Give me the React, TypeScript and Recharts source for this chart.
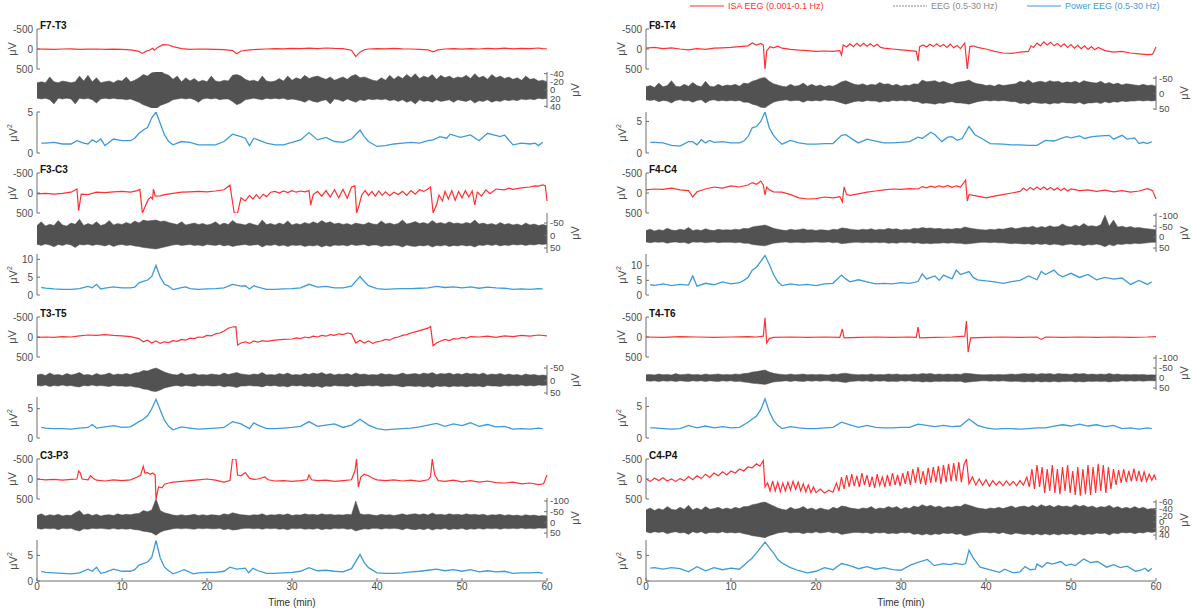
import React from 'react';
import { ComposedChart, Line, Area, XAxis, YAxis } from 'recharts';

type Pt = [number, number];

// ---------- data ----------
// EEG envelope is sampled every 0.5 min (0..60)
const eegTime = Array.from({ length: 121 }, (_, i) => i * 0.5);
const timeTicks = [0, 10, 20, 30, 40, 50, 60];

// F7-T3
const isaF7T3: Pt[] = [[0,0],[1,5],[2,10],[3,0],[4,-5],[5,10],[6,5],[7,0],[8,10],[9,5],[10,10],[11,20],[12,60],[12.4,110],[12.8,60],[13.2,30],[13.6,-20],[13.8,30],[14.2,-40],[14.8,-110],[15.5,-100],[16,-60],[17,-10],[18,10],[19,0],[20,5],[21,10],[22,15],[23,40],[23.5,120],[24,50],[25,20],[26,10],[27,0],[28,-10],[29,-5],[30,-15],[31,-10],[32,-20],[33,-10],[34,-25],[35,-15],[36,-10],[37,30],[37.5,190],[38,80],[38.5,20],[39,0],[40,-10],[41,-5],[42,-15],[43,-5],[44,0],[45,10],[46,20],[46.6,70],[47.2,20],[48,0],[49,-10],[50,5],[51,-10],[52,0],[53,-15],[54,-5],[55,-20],[56,-5],[57,-15],[58,-10],[59,-25],[59.5,-10],[60,0]];
const eegHiF7T3 = [-18,-20,-18,-32,-20,-18,-22,-20,-18,-20,-34,-22,-36,-20,-30,-18,-20,-22,-18,-24,
  -22,-32,-20,-24,-30,-38,-34,-42,-44,-46,-40,-36,-26,-34,-20,-30,-22,-28,-20,-24,
  -20,-34,-22,-20,-24,-22,-36,-38,-34,-26,-22,-24,-20,-34,-22,-20,-22,-28,-22,-34,
  -24,-30,-26,-36,-28,-32,-34,-30,-26,-32,-24,-28,-32,-26,-34,-38,-30,-32,-28,-24,
  -22,-30,-24,-36,-26,-34,-28,-38,-30,-40,-28,-34,-30,-38,-26,-36,-30,-34,-28,-32,
  -30,-36,-28,-40,-30,-34,-26,-38,-30,-34,-28,-32,-26,-30,-24,-34,-26,-28,-22,-24,-20];
const eegLoF7T3 = [20,22,20,24,34,20,22,20,22,34,20,22,20,24,32,22,20,22,20,22,
  22,24,22,26,30,36,40,44,46,38,34,30,24,22,20,22,20,24,30,22,
  20,22,20,24,22,22,28,36,32,24,22,20,22,24,20,22,20,22,20,24,
  22,24,26,30,24,28,30,26,24,34,22,24,28,22,26,30,24,26,22,24,
  22,24,22,26,24,28,24,30,26,34,24,28,26,30,24,28,26,24,30,24,
  26,28,24,32,26,28,24,30,26,28,24,26,24,26,22,24,22,24,20,22,20];
const powF7T3: Pt[] = [[0.5,1.2],[1,1.2],[2,1.3],[3,1.1],[4,1.1],[4.7,1.5],[5.5,1.2],[6,1.1],[6.5,1.6],[7,1.3],[7.5,1.7],[8,0.9],[9,1.7],[10,1.5],[11,1.5],[11.5,1.8],[12,2.4],[12.5,2.8],[13,3.1],[13.5,4.3],[14,5.0],[14.5,3.6],[15,2.2],[15.5,1.4],[16,1.0],[17,1.4],[18,1.3],[19,1.0],[20,1.0],[21,1.0],[22,1.4],[23,2.3],[24,2.0],[24.5,1.8],[25,0.9],[25.5,1.8],[26,1.6],[27,1.2],[28,1.0],[29,1.0],[30,1.3],[31,1.6],[32,2.5],[33,1.6],[34,1.9],[35,1.4],[36,1.3],[37,1.7],[38,2.8],[38.5,2.0],[39,1.4],[40,0.8],[41,0.9],[42,1.1],[43,1.2],[44,1.3],[45,1.2],[46,1.5],[46.6,1.6],[47.4,2.0],[48.2,1.8],[48.6,2.3],[49.8,1.9],[51,2.2],[52,1.5],[53,2.4],[54.5,2.0],[55,2.2],[56,1.0],[57,1.2],[58,1.1],[58.6,1.2],[59,0.9],[59.5,1.3]];

// F3-C3
const isaF3C3: Pt[] = [[0,20],[1,10],[2,30],[3,10],[4,-20],[4.7,-100],[4.9,440],[5.2,30],[6,40],[7,-20],[8,-10],[9,-30],[10,-40],[11,-20],[11.8,-60],[12.1,-90],[12.4,500],[12.8,300],[13.1,160],[13.4,100],[13.6,150],[13.7,-100],[13.9,80],[14.5,70],[15,40],[16,10],[17,-20],[18,-30],[19,-40],[20,-30],[21,-50],[22,-80],[22.7,-200],[23.2,500],[23.6,500],[24,120],[24.5,200],[25,60],[25.4,150],[25.8,40],[26.2,140],[26.6,30],[27,90],[27.5,-20],[28,-40],[28.5,0],[29,-50],[29.5,-10],[30,-60],[30.5,-20],[31,-50],[31.5,-30],[32,-60],[32.2,300],[32.5,40],[33,-40],[33.5,80],[34,-60],[34.5,100],[35,-80],[35.5,120],[36,-90],[36.5,130],[37,-150],[37.4,-180],[37.6,500],[37.9,300],[38.2,50],[38.6,-60],[39,60],[39.4,-40],[39.8,80],[40.2,-50],[40.6,60],[41,-30],[41.5,70],[42,-20],[42.5,40],[43,-40],[43.5,60],[44,-60],[44.5,30],[45,-80],[45.5,-40],[46,-100],[46.3,-150],[46.6,500],[47,300],[47.3,50],[47.7,200],[48,-40],[48.4,150],[48.8,-60],[49.2,180],[49.6,-40],[50,120],[50.4,-60],[50.8,100],[51.2,-50],[51.5,300],[51.8,-20],[52.3,80],[52.8,-80],[53.3,20],[54,-100],[55,-80],[55.5,-120],[56,-90],[57,-130],[58,-150],[58.5,-180],[59,-170],[59.5,-200],[59.8,-180],[60,200]];
const eegHiF3C3 = [-40,-55,-38,-45,-40,-60,-42,-38,-50,-45,-65,-40,-48,-42,-55,-40,-45,-60,-42,-48,
  -44,-52,-46,-58,-50,-62,-58,-60,-62,-56,-58,-52,-48,-44,-55,-42,-46,-50,-44,-48,
  -42,-46,-55,-42,-50,-44,-60,-48,-46,-42,-50,-44,-40,-62,-44,-48,-42,-50,-44,-58,
  -42,-48,-44,-52,-46,-55,-48,-60,-50,-55,-46,-50,-44,-48,-42,-50,-46,-44,-52,-46,
  -44,-58,-46,-50,-44,-48,-62,-46,-50,-56,-48,-52,-46,-60,-48,-52,-46,-55,-48,-50,
  -46,-52,-48,-62,-46,-50,-44,-48,-42,-52,-44,-48,-42,-46,-40,-50,-42,-46,-40,-44,-40];
const eegLoF3C3 = [35,40,34,38,45,36,40,34,38,48,36,38,35,40,36,38,42,36,44,38,
  36,40,38,42,44,48,50,52,54,50,46,42,38,36,40,38,36,40,38,42,
  36,38,40,36,42,38,44,40,38,36,40,38,36,46,38,40,36,42,38,44,
  38,40,38,44,40,42,38,46,40,44,38,40,38,42,36,40,38,36,42,38,
  38,44,40,42,38,40,46,38,42,44,40,42,38,46,40,42,38,44,40,42,
  38,42,40,46,38,40,36,40,36,42,38,40,36,38,36,40,36,38,34,36,34];
const powF3C3: Pt[] = [[0.5,2.1],[1,1.9],[2,1.7],[3,1.6],[4,1.6],[5,1.8],[6,2.4],[6.5,2.0],[7,3.0],[7.5,1.7],[8,1.9],[9,2.3],[10,2.0],[11,2.0],[11.5,2.2],[12,3.4],[12.5,3.8],[13,4.2],[13.5,5.2],[14,8.3],[14.5,5.0],[15,3.0],[15.5,2.5],[16,1.5],[17,2.1],[17.5,2.3],[18,1.8],[19,1.6],[20,1.7],[21,1.8],[22,2.0],[23,3.0],[24,2.5],[24.5,2.6],[25,1.7],[25.5,2.6],[26,2.2],[27,1.6],[28,1.6],[29,1.7],[30,1.8],[31,2.0],[32,3.0],[33,2.2],[34,2.4],[35,2.0],[36,2.0],[37,2.5],[38,5.2],[38.5,3.8],[39,2.6],[40,1.8],[41,1.6],[42,1.7],[43,1.8],[44,1.8],[45,1.9],[46,2.0],[47,2.4],[48,2.1],[49,2.3],[50,2.0],[51,2.3],[52,1.9],[53,2.2],[54,2.0],[55,1.9],[56,1.6],[57,1.7],[58,1.6],[59,1.8],[59.5,1.7]];

// T3-T5
const isaT3T5: Pt[] = [[0,10],[1,0],[2,10],[3,-10],[4,0],[5,-30],[6,-50],[7,-40],[8,-60],[9,-40],[10,-30],[11,-10],[12,40],[12.5,120],[13,80],[13.5,150],[14,100],[14.5,160],[15,120],[15.5,140],[16,90],[16.5,110],[17,60],[17.5,80],[18,30],[18.5,40],[19,0],[19.5,10],[20,-40],[20.5,-30],[21,-80],[21.5,-100],[22,-150],[22.5,-220],[23,-250],[23.4,-260],[23.6,200],[24,150],[24.5,120],[25,160],[25.5,100],[26,130],[26.5,90],[27,110],[28,80],[29,60],[30,50],[30.5,20],[31,40],[31.5,0],[32,20],[32.5,-20],[33,0],[33.5,-40],[34,-20],[34.5,-60],[35,-40],[35.5,-80],[36,-60],[36.5,-100],[37,-80],[37.5,150],[38,80],[38.5,150],[39,100],[39.5,160],[40,120],[40.5,100],[41,60],[41.5,80],[42,20],[42.5,0],[43,-40],[43.5,-60],[44,-100],[44.5,-130],[45,-160],[45.5,-190],[46,-220],[46.3,-260],[46.6,220],[47,150],[47.5,100],[48,60],[48.5,90],[49,40],[49.5,50],[50,10],[50.5,30],[51,-10],[52,0],[53,-20],[54,10],[55,-30],[56,-10],[57,-40],[58,-20],[59,-50],[60,-30]];
const eegHiT3T5 = [-22,-26,-20,-30,-22,-24,-20,-28,-22,-26,-32,-22,-24,-20,-28,-22,-24,-30,-22,-26,
  -24,-28,-24,-30,-32,-40,-38,-45,-50,-42,-34,-28,-24,-22,-30,-22,-24,-28,-22,-24,
  -22,-26,-24,-22,-30,-24,-28,-32,-26,-24,-22,-26,-24,-32,-22,-24,-22,-28,-24,-30,
  -22,-24,-22,-28,-24,-30,-26,-32,-24,-28,-22,-26,-24,-28,-22,-30,-24,-26,-22,-24,
  -22,-28,-24,-26,-22,-24,-30,-24,-26,-28,-24,-30,-26,-32,-24,-28,-26,-30,-24,-28,
  -24,-30,-26,-28,-24,-30,-22,-26,-24,-28,-22,-26,-22,-24,-20,-26,-22,-24,-20,-22,-20];
const eegLoT3T5 = [20,22,18,24,20,22,18,22,20,24,26,20,22,18,22,20,22,24,20,22,
  22,24,22,26,28,34,36,42,44,38,30,26,22,20,24,20,22,24,20,22,
  20,22,22,20,26,22,24,28,22,22,20,22,22,26,20,22,20,24,22,26,
  20,22,20,24,22,26,22,28,22,24,20,22,22,24,20,26,22,22,20,22,
  20,24,22,22,20,22,26,22,22,24,22,26,22,28,22,24,22,26,22,24,
  22,26,22,24,22,26,20,22,22,24,20,22,20,22,18,22,20,22,18,20,18];
const powT3T5: Pt[] = [[0.5,1.8],[1,1.7],[2,1.6],[3,1.6],[4,1.5],[5,1.7],[6,1.8],[6.5,2.3],[7,1.7],[8,1.9],[9,2.1],[10,1.8],[11,1.9],[12,2.8],[12.5,3.2],[13,3.8],[13.5,5.0],[14,6.6],[14.5,4.8],[15,3.0],[15.5,2.0],[16,1.4],[17,1.9],[18,1.7],[19,1.5],[20,1.6],[21,1.7],[22,1.8],[23,2.8],[24,2.4],[25,1.6],[25.5,2.6],[26,2.2],[27,1.6],[28,1.6],[29,1.7],[30,1.8],[31,2.0],[32,2.8],[33,2.0],[34,2.2],[35,2.4],[36,1.8],[37,2.2],[38,3.2],[39,2.2],[40,1.6],[41,1.4],[42,1.5],[43,1.6],[44,1.7],[45,1.9],[46,2.2],[47,2.5],[48,2.0],[49,2.4],[50,2.1],[51,2.6],[52,2.0],[53,2.3],[54,1.9],[55,2.0],[56,1.5],[57,1.6],[58,1.5],[59,1.7],[59.5,1.6]];

// C3-P3
const isaC3P3: Pt[] = [[0,0],[1,20],[2,10],[3,30],[4,10],[4.7,0],[4.9,-200],[5.1,-150],[5.3,0],[6,20],[6.3,-80],[6.6,-20],[7,30],[8,50],[9,20],[10,40],[11,20],[11.8,-50],[12.2,-100],[12.5,-320],[12.7,-150],[13,-160],[13.3,-120],[13.6,-150],[13.9,-100],[14,500],[14.3,200],[14.7,220],[15,130],[15.5,100],[16,80],[17,60],[18,40],[19,20],[20,0],[21,30],[22,80],[22.7,40],[23,-500],[23.4,-500],[23.6,-100],[24,-80],[24.5,-160],[25,-20],[25.5,10],[26,0],[26.8,-50],[27.2,20],[28,50],[29,40],[30,60],[31,40],[31.8,20],[32,-100],[32.3,20],[33,40],[34,30],[35,60],[36,40],[37,20],[37.4,-200],[37.6,-500],[37.8,200],[38.1,-50],[38.5,-120],[39,-80],[39.5,-20],[40,20],[41,40],[42,20],[43,50],[44,30],[45,60],[46,20],[46.3,-50],[46.5,-500],[46.8,-100],[47.2,40],[48,60],[49,30],[50,70],[51,40],[52,80],[53,50],[54,90],[55,100],[56,80],[57,120],[58,100],[59,140],[59.6,120],[60,-100]];
const eegHiC3P3 = [-32,-40,-30,-36,-32,-38,-30,-34,-32,-45,-55,-34,-40,-32,-38,-30,-34,-36,-32,-40,
  -34,-38,-36,-40,-42,-55,-50,-58,-110,-55,-45,-40,-34,-32,-36,-32,-34,-38,-32,-36,
  -32,-36,-34,-32,-40,-36,-45,-40,-36,-34,-32,-36,-34,-40,-32,-36,-34,-38,-34,-40,
  -32,-36,-34,-40,-36,-38,-34,-40,-36,-38,-34,-36,-34,-38,-36,-100,-40,-36,-38,-34,
  -32,-38,-34,-36,-32,-36,-40,-34,-38,-40,-36,-40,-34,-44,-36,-38,-34,-40,-36,-38,
  -34,-40,-36,-38,-34,-38,-32,-36,-34,-38,-32,-36,-32,-34,-30,-36,-32,-34,-30,-32,-30];
const eegLoC3P3 = [28,32,28,30,28,34,28,30,28,36,40,30,32,28,30,28,30,32,28,32,
  30,32,30,34,36,42,44,48,60,46,38,34,30,28,30,28,30,32,28,30,
  28,30,30,28,34,30,36,34,30,28,28,30,28,32,28,30,28,32,30,34,
  28,30,28,32,30,32,28,34,30,32,28,30,28,32,30,40,34,30,32,28,
  28,32,28,30,28,30,34,28,32,34,30,34,28,36,30,32,28,34,30,32,
  28,34,30,32,28,32,28,30,28,32,28,30,28,30,26,30,28,30,26,28,26];
const powC3P3: Pt[] = [[0.5,1.9],[1,1.7],[2,1.6],[3,1.5],[4,1.4],[5,1.6],[6,2.3],[6.5,1.9],[7,2.7],[7.5,1.5],[8,1.7],[9,2.3],[10,1.9],[11,1.9],[11.5,2.2],[12,3.1],[12.5,3.4],[13,3.7],[13.5,4.6],[14,7.9],[14.5,4.5],[15,2.7],[15.5,2.0],[16,1.4],[17,2.0],[17.3,2.2],[18.4,1.4],[19,1.6],[20,1.7],[21,1.7],[22,1.9],[22.7,2.7],[23.5,2.3],[24.5,2.5],[24.9,1.6],[25.4,2.5],[26,2.0],[27,1.5],[28,1.5],[29,1.6],[30,1.7],[31,1.9],[32,2.6],[33,2.0],[34,2.1],[35,1.9],[36,1.8],[37,2.4],[38,5.2],[38.5,3.6],[39,2.6],[40,1.6],[41,1.5],[42,1.5],[43,1.6],[44,1.8],[45,1.9],[46,2.1],[47,2.3],[48,2.0],[49,2.2],[50,1.9],[51,2.2],[52,1.8],[53,2.0],[54,1.8],[55,1.9],[56,1.5],[57,1.6],[58,1.6],[59,1.7],[59.5,1.5]];

// F8-T4
const isaF8T4: Pt[] = [[0,-20],[1,-40],[2,-10],[3,-30],[4,0],[5,20],[6,-10],[7,10],[8,-20],[9,-30],[10,-40],[11,-60],[12,-80],[12.5,-150],[13,-100],[13.5,-140],[13.8,-100],[14,500],[14.2,50],[14.6,-60],[15,-30],[15.5,-70],[16,-20],[17,10],[18,30],[19,40],[20,60],[21,50],[22,60],[22.8,40],[23,150],[23.2,-100],[23.6,-50],[24,-130],[24.4,-60],[24.8,-140],[25.2,-70],[25.6,-140],[26,-70],[26.4,-130],[26.8,-60],[27.2,-120],[27.6,-40],[28,-20],[29,0],[30,20],[31,40],[31.8,60],[32,300],[32.2,-60],[32.6,-100],[33,-50],[33.4,-120],[33.8,-60],[34.2,-130],[34.6,-60],[35,-110],[35.4,-40],[35.8,-120],[36.2,-30],[36.6,-90],[37,-10],[37.5,-150],[37.8,500],[38.1,-60],[38.5,-80],[39,-40],[40,0],[41,60],[42,100],[43,110],[44,80],[45,60],[45.3,-80],[45.6,-40],[46,-150],[46.4,-80],[46.8,-180],[47.2,-100],[47.6,-170],[48,-80],[48.4,-140],[48.8,-60],[49.2,-130],[49.6,-40],[50,-110],[50.4,-20],[50.8,-90],[51.2,-10],[51.6,-80],[52,10],[52.4,-60],[52.8,20],[53.2,-40],[54,40],[55,80],[56,60],[57,100],[58,120],[59,140],[59.6,130],[60,-50]];
const eegHiF8T4 = [-22,-26,-20,-34,-22,-26,-42,-24,-22,-30,-24,-36,-26,-22,-40,-24,-22,-30,-24,-28,
  -26,-30,-24,-34,-32,-40,-44,-50,-52,-40,-32,-28,-24,-22,-30,-24,-26,-34,-24,-30,
  -24,-28,-22,-26,-24,-30,-38,-42,-36,-30,-28,-32,-26,-30,-28,-36,-30,-32,-26,-30,
  -24,-28,-26,-32,-30,-44,-38,-40,-42,-36,-40,-34,-30,-36,-38,-40,-44,-36,-32,-30,
  -26,-28,-24,-30,-26,-28,-30,-32,-40,-36,-44,-34,-38,-40,-36,-42,-38,-40,-34,-38,
  -36,-40,-34,-42,-38,-36,-34,-40,-32,-36,-30,-34,-28,-32,-30,-28,-26,-30,-26,-28,-24];
const eegLoF8T4 = [20,22,20,26,22,24,30,22,20,24,22,28,22,20,30,22,20,24,22,24,
  22,24,22,28,28,34,38,44,46,36,28,24,22,20,24,22,22,28,22,24,
  22,24,20,22,22,26,30,34,30,26,24,26,22,24,24,28,24,26,22,24,
  22,24,22,26,26,32,30,32,34,30,32,28,26,30,30,32,34,30,26,24,
  22,24,22,24,22,24,26,26,32,30,34,28,30,32,30,34,30,32,28,30,
  30,32,28,34,30,30,28,32,26,30,26,28,24,26,24,24,22,24,22,24,22];
const powF8T4: Pt[] = [[0.5,1.7],[1,1.7],[2,1.6],[3,1.2],[4,1.1],[5,1.8],[5.5,1.8],[6,1.3],[6.5,2.1],[7,1.6],[7.5,2.0],[8,1.7],[9,1.8],[10,1.6],[11,1.6],[11.5,1.9],[12,2.6],[12.5,4.0],[13,4.2],[13.5,5.0],[14,6.5],[14.5,4.0],[15,2.8],[15.5,2.0],[16,1.4],[17,2.0],[18,1.6],[19,1.4],[20,1.4],[21,1.5],[22,1.5],[23,2.8],[23.5,2.9],[24.5,2.0],[25,1.6],[26,2.2],[27,1.9],[28,1.6],[29,1.6],[30,1.7],[31,1.8],[32,2.5],[32.5,2.3],[33.5,3.3],[34,2.9],[34.8,1.8],[35.5,2.5],[36,2.6],[36.6,2.0],[37.2,2.3],[38,4.2],[38.7,2.9],[39.5,2.3],[40.5,1.5],[42,1.4],[43,1.3],[44,1.3],[45,1.2],[46,1.2],[47,2.0],[48,1.9],[49,2.4],[49.5,2.6],[50,2.4],[51,2.7],[51.6,2.3],[52.5,2.6],[53.5,2.7],[54.5,2.8],[55,2.2],[56,2.8],[56.6,2.2],[57.5,2.4],[58,1.5],[58.5,1.7],[59,1.5],[59.5,1.8]];

// F4-C4
const isaF4C4: Pt[] = [[0,-80],[1,-100],[2,-90],[3,-120],[4,-80],[5,-60],[5.5,100],[6,-30],[7,-100],[8,-150],[9,-120],[10,-180],[11,-150],[12,-200],[12.5,-260],[13,-220],[13.5,-300],[13.8,-200],[14,50],[14.2,-150],[14.5,-80],[15,-30],[16,-20],[17,40],[18,120],[19,150],[20,140],[21,100],[22,120],[22.8,90],[23.1,220],[23.3,-150],[23.6,40],[24,60],[25,20],[26,-20],[27,-50],[28,-80],[29,-100],[30,-90],[31,-110],[32,-100],[32.5,-160],[33,-130],[33.5,-170],[34,-140],[34.5,-180],[35,-150],[35.5,-190],[36,-140],[36.5,-180],[37,-150],[37.6,-320],[37.8,200],[38,40],[39,80],[40,120],[41,80],[42,40],[43,0],[44,-40],[44.4,-120],[44.8,-60],[45.2,-140],[45.6,-80],[46,-150],[46.4,-90],[46.8,-150],[47.2,-80],[47.6,-140],[48,-70],[48.4,-130],[48.8,-60],[49.2,-120],[49.6,-50],[50,-100],[51,-60],[52,-80],[53,-40],[54,-70],[55,-30],[56,-60],[57,-20],[58,-50],[59,-110],[59.6,-60],[60,150]];
const eegHiF4C4 = [-30,-36,-28,-34,-30,-40,-32,-30,-36,-32,-44,-30,-34,-30,-38,-32,-30,-36,-32,-34,
  -32,-36,-34,-40,-38,-46,-50,-52,-55,-48,-40,-36,-32,-30,-36,-32,-34,-38,-32,-34,
  -30,-34,-32,-30,-36,-34,-42,-40,-36,-34,-32,-36,-34,-38,-32,-36,-34,-40,-36,-38,
  -32,-36,-34,-40,-38,-44,-40,-42,-38,-40,-36,-38,-36,-40,-38,-46,-42,-38,-36,-34,
  -32,-36,-34,-38,-36,-40,-44,-38,-42,-46,-44,-50,-42,-48,-44,-52,-46,-48,-60,-50,
  -46,-55,-48,-62,-50,-52,-48,-56,-100,-50,-78,-46,-50,-44,-48,-42,-44,-40,-38,-36,-34];
const eegLoF4C4 = [22,26,22,24,22,28,24,22,26,24,30,22,24,22,26,24,22,26,24,24,
  24,26,24,28,28,34,36,38,40,34,28,26,24,22,26,24,24,26,24,24,
  22,24,24,22,26,24,30,28,26,24,24,26,24,26,24,26,24,28,26,28,
  24,26,24,28,26,30,28,30,28,28,26,28,26,28,28,32,30,28,26,24,
  24,26,24,26,26,28,30,28,30,32,30,34,30,34,30,36,32,34,38,34,
  32,36,34,40,34,36,32,36,44,34,40,32,34,30,32,28,30,28,26,24,24];
const powF4C4: Pt[] = [[0.5,3.5],[1,3.3],[2,3.8],[3,3.2],[4,3.6],[5,3.4],[5.5,6.5],[6,3.0],[7,4.0],[8,3.5],[9,4.5],[10,3.8],[11,4.2],[11.5,5.0],[12,6.0],[12.5,8.5],[13,9.5],[13.5,11.5],[14,13.5],[14.5,10.5],[15,7.0],[15.5,4.5],[16,3.2],[17,3.8],[18,3.4],[19,3.6],[20,3.2],[21,3.8],[22,4.0],[23,6.8],[23.5,5.5],[24,4.5],[25,5.2],[26,4.5],[27,3.8],[28,4.0],[29,3.8],[30,4.2],[31,4.0],[32,4.6],[32.5,7.2],[33,5.5],[34,6.5],[34.5,5.0],[35,6.8],[36,5.5],[36.5,8.5],[37,7.0],[38,8.0],[38.5,6.0],[39,5.2],[40,4.8],[41,4.5],[42,4.0],[43,4.6],[44,5.0],[45,6.5],[46,5.2],[46.5,8.0],[47,7.0],[48,8.5],[48.5,7.0],[49,6.2],[50,7.4],[51,6.0],[52,7.0],[53,5.2],[54,6.0],[55,5.4],[56,5.8],[57,3.6],[58,5.0],[59,3.6],[59.5,4.5]];

// T4-T6
const isaT4T6: Pt[] = [[0,0],[2,10],[4,-10],[6,0],[8,10],[10,0],[12,-10],[13,0],[13.8,-20],[14,-480],[14.2,150],[14.5,40],[15,10],[17,0],[19,10],[21,0],[22.8,10],[23.1,-200],[23.3,20],[25,10],[27,0],[29,10],[31,0],[31.8,10],[32,-250],[32.2,20],[34,10],[36,0],[37.5,-20],[37.7,-400],[37.9,380],[38.2,20],[40,10],[42,0],[44,10],[46,0],[46.5,60],[47,0],[49,10],[51,0],[53,10],[55,0],[57,10],[59,0],[60,-10]];
const eegHiT4T6 = [-16,-18,-15,-20,-16,-18,-15,-22,-16,-18,-20,-16,-18,-15,-20,-16,-18,-20,-16,-18,
  -16,-20,-18,-22,-24,-30,-32,-36,-40,-30,-24,-20,-18,-16,-20,-16,-18,-20,-16,-18,
  -16,-18,-16,-15,-20,-18,-22,-24,-20,-18,-16,-18,-16,-20,-16,-18,-16,-20,-18,-20,
  -16,-18,-16,-20,-18,-22,-20,-22,-18,-20,-18,-20,-18,-20,-18,-24,-22,-20,-18,-16,
  -16,-18,-16,-18,-16,-18,-20,-18,-20,-22,-20,-22,-18,-22,-20,-22,-18,-22,-20,-20,
  -18,-22,-20,-22,-18,-20,-18,-20,-18,-22,-18,-20,-16,-18,-16,-18,-16,-18,-15,-16,-15];
const eegLoT4T6 = [14,16,14,18,14,16,14,18,14,16,18,14,16,14,18,14,16,18,14,16,
  14,18,16,20,22,26,28,30,32,26,20,18,16,14,18,14,16,18,14,16,
  14,16,14,14,18,16,20,22,18,16,14,16,14,18,14,16,14,18,16,18,
  14,16,14,18,16,20,18,20,16,18,16,18,16,18,16,22,20,18,16,14,
  14,16,14,16,14,16,18,16,18,20,18,20,16,20,18,20,16,20,18,18,
  16,20,18,20,16,18,16,18,16,20,16,18,14,16,14,16,14,16,14,14,14];
const powT4T6: Pt[] = [[0.5,1.6],[1,1.6],[2,1.5],[3,1.4],[4,1.5],[5,2.0],[6,1.6],[7,1.9],[8,1.6],[9,1.8],[10,1.6],[11,1.7],[12,2.5],[12.5,3.0],[13,3.5],[13.5,4.5],[14,6.2],[14.5,4.2],[15,2.8],[15.5,2.0],[16,1.5],[17,1.8],[18,1.6],[19,1.5],[20,1.5],[21,1.6],[22,1.7],[23,2.5],[24,2.1],[25,1.7],[26,2.0],[27,1.7],[28,1.6],[29,1.6],[30,1.7],[31,1.7],[32,2.2],[33,2.0],[34,1.8],[35,2.0],[36,1.8],[37,1.9],[38,3.0],[39,2.0],[40,1.6],[41,1.4],[42,1.5],[43,1.5],[44,1.4],[45,1.5],[46,1.6],[47,1.6],[48,1.9],[49,2.1],[50,1.9],[51,2.2],[52,1.9],[53,2.1],[54,1.8],[55,2.0],[56,1.5],[57,1.6],[58,1.4],[59,1.6],[59.5,1.5]];

// C4-P4
const isaC4P4: Pt[] = [[0,0],[0.5,60],[1,-20],[1.5,40],[2,-30],[2.5,50],[3,0],[3.5,60],[4,-10],[4.5,40],[5,-60],[5.5,20],[6,-80],[6.5,-10],[7,-120],[7.5,-40],[8,-150],[8.5,-80],[9,-180],[9.5,-100],[10,-200],[10.5,-150],[11,-250],[11.5,-200],[12,-300],[12.5,-280],[13,-380],[13.4,-320],[13.8,-460],[14,200],[14.3,100],[14.6,300],[14.9,50],[15.2,300],[15.5,80],[15.8,320],[16.1,100],[16.4,300],[16.7,80],[17,280],[17.3,60],[17.6,260],[17.9,80],[18.2,300],[18.5,120],[18.8,320],[19.1,150],[19.4,340],[19.7,200],[20,340],[20.5,250],[21,350],[21.5,280],[22,330],[22.4,100],[22.7,300],[23,-50],[23.3,250],[23.6,-100],[23.9,200],[24.2,-120],[24.5,180],[24.8,-80],[25.1,200],[25.4,-150],[25.7,150],[26,-100],[26.3,200],[26.6,-60],[26.9,220],[27.2,-120],[27.5,160],[27.8,-50],[28.1,200],[28.4,-100],[28.7,180],[29,-150],[29.3,150],[29.6,-100],[29.9,180],[30.2,-150],[30.5,120],[30.8,-200],[31.1,150],[31.4,-250],[31.7,100],[32,-300],[32.3,120],[32.6,-200],[32.9,150],[33.2,-280],[33.5,100],[33.8,-300],[34.1,80],[34.4,-320],[34.7,120],[35,-350],[35.3,80],[35.6,-380],[35.9,60],[36.2,-400],[36.5,50],[36.8,-420],[37.1,80],[37.4,-350],[37.7,-500],[38,120],[38.4,-50],[38.8,150],[39.2,0],[39.6,160],[40,20],[40.4,180],[40.8,40],[41.2,150],[41.6,60],[42,170],[42.4,50],[42.8,160],[43.2,60],[43.6,170],[44,40],[44.4,150],[44.8,-50],[45.1,200],[45.4,-250],[45.7,250],[46,-350],[46.3,200],[46.6,-300],[46.9,350],[47.2,-250],[47.5,300],[47.8,-350],[48.1,350],[48.4,-250],[48.7,380],[49,-300],[49.3,300],[49.6,-350],[49.9,350],[50.2,-200],[50.5,400],[50.8,-300],[51.1,420],[51.4,-250],[51.7,380],[52,-350],[52.3,400],[52.6,-300],[52.9,350],[53.2,-380],[53.5,300],[53.8,-350],[54.1,350],[54.4,-300],[54.7,250],[55,-250],[55.3,150],[55.6,-220],[55.9,100],[56.2,-250],[56.5,80],[56.8,-200],[57.1,60],[57.4,-260],[57.7,50],[58,-200],[58.3,80],[58.6,-180],[58.9,50],[59.2,-120],[59.5,30],[59.8,-100],[60,20]];
const eegHiC4P4 = [-36,-42,-34,-40,-36,-46,-38,-36,-44,-38,-50,-36,-42,-36,-46,-38,-40,-44,-38,-42,
  -38,-44,-40,-46,-46,-52,-54,-58,-60,-54,-48,-42,-38,-36,-44,-38,-40,-46,-38,-42,
  -36,-42,-38,-36,-44,-40,-48,-46,-42,-40,-38,-42,-40,-46,-38,-42,-40,-46,-42,-46,
  -38,-44,-40,-48,-44,-52,-46,-50,-44,-48,-42,-46,-44,-48,-46,-54,-50,-46,-42,-40,
  -38,-42,-40,-44,-40,-44,-48,-42,-46,-48,-44,-50,-44,-52,-46,-50,-44,-50,-46,-48,
  -44,-52,-46,-50,-44,-48,-42,-46,-44,-50,-42,-46,-40,-44,-40,-46,-40,-44,-38,-40,-36];
const eegLoC4P4 = [30,34,30,32,30,36,32,30,34,32,38,30,34,30,36,32,32,34,30,34,
  32,34,32,36,38,42,44,46,48,42,38,34,32,30,34,32,32,36,32,34,
  30,34,32,30,34,32,38,36,34,32,32,34,32,36,32,34,32,36,34,36,
  32,34,32,38,36,40,36,40,36,38,34,36,34,38,36,42,40,36,34,32,
  32,34,32,36,32,36,38,34,36,38,36,40,36,40,36,40,36,40,36,38,
  36,40,36,40,36,38,34,36,34,40,34,36,32,34,32,36,32,34,30,32,30];
const powC4P4: Pt[] = [[0.5,2.5],[1,2.6],[2,2.3],[3,2.6],[4,2.4],[5,1.8],[6,2.8],[7,2.0],[8,2.6],[9,2.2],[10,2.5],[11,2.3],[12,3.8],[12.5,4.5],[13,5.5],[13.5,6.5],[14,7.6],[14.5,6.5],[15,5.5],[15.5,4.2],[16,3.5],[17,2.6],[18,2.0],[19,1.6],[20,1.9],[21,2.6],[22,2.2],[23,3.4],[24,3.0],[25,2.4],[26,2.8],[27,2.3],[28,2.6],[29,2.2],[30,2.1],[31.1,3.1],[31.9,3.6],[33.1,4.2],[33.9,3.0],[35,3.4],[35.8,3.2],[36.4,3.5],[37.2,3.2],[37.6,3.4],[38,6.0],[38.5,4.5],[39.3,2.7],[40.4,2.2],[41.6,1.7],[42.2,2.3],[43.2,1.6],[44,1.8],[44.6,2.8],[45.2,2.2],[45.8,2.3],[46,3.3],[46.6,2.7],[47.2,3.6],[47.8,3.3],[48.8,3.8],[49.4,3.0],[50,3.3],[50.5,3.0],[51.5,4.3],[52.3,3.6],[53.1,3.8],[54.2,2.7],[55,3.2],[55.8,2.6],[56.6,2.9],[57.6,1.9],[58.2,2.1],[58.7,2.5],[59.1,1.9],[59.5,2.5]];

const channels = [
  { name: 'F7-T3', col: 0, row: 0, isa: isaF7T3, eegHi: eegHiF7T3, eegLo: eegLoF7T3, power: powF7T3, eegTicks: [-40, -20, 0, 20, 40], powTicks: [0, 5] },
  { name: 'F3-C3', col: 0, row: 1, isa: isaF3C3, eegHi: eegHiF3C3, eegLo: eegLoF3C3, power: powF3C3, eegTicks: [-50, 0, 50], powTicks: [0, 5, 10] },
  { name: 'T3-T5', col: 0, row: 2, isa: isaT3T5, eegHi: eegHiT3T5, eegLo: eegLoT3T5, power: powT3T5, eegTicks: [-50, 0, 50], powTicks: [0, 5] },
  { name: 'C3-P3', col: 0, row: 3, isa: isaC3P3, eegHi: eegHiC3P3, eegLo: eegLoC3P3, power: powC3P3, eegTicks: [-100, -50, 0, 50], powTicks: [0, 5] },
  { name: 'F8-T4', col: 1, row: 0, isa: isaF8T4, eegHi: eegHiF8T4, eegLo: eegLoF8T4, power: powF8T4, eegTicks: [-50, 0, 50], powTicks: [0, 5] },
  { name: 'F4-C4', col: 1, row: 1, isa: isaF4C4, eegHi: eegHiF4C4, eegLo: eegLoF4C4, power: powF4C4, eegTicks: [-100, -50, 0, 50], powTicks: [0, 5, 10] },
  { name: 'T4-T6', col: 1, row: 2, isa: isaT4T6, eegHi: eegHiT4T6, eegLo: eegLoT4T6, power: powT4T6, eegTicks: [-100, -50, 0, 50], powTicks: [0, 5] },
  { name: 'C4-P4', col: 1, row: 3, isa: isaC4P4, eegHi: eegHiC4P4, eegLo: eegLoC4P4, power: powC4P4, eegTicks: [-60, -40, -20, 0, 20, 40], powTicks: [0, 5] },
];

// ---------- layout ----------
const COL_X = [37, 646];
const PLOT_W = 510;
const PAD = 40;
const PADY = 8;
const ISA_TOP = [29, 173, 317, 459];
const ISA_H = 40;
const POW_BOTTOM = [153, 295, 438, 581];
const POW_H = 41;
const eegBox: Record<string, { top: number; bottom: number; domain: [number, number] }> = {
  'F7-T3': { top: 72, bottom: 108, domain: [-44, 44] },
  'F3-C3': { top: 213, bottom: 253, domain: [-90, 70] },
  'T3-T5': { top: 365, bottom: 395, domain: [-62, 58] },
  'C3-P3': { top: 498, bottom: 538, domain: [-114, 73] },
  'F8-T4': { top: 76, bottom: 110, domain: [-57, 53] },
  'F4-C4': { top: 213, bottom: 252, domain: [-110, 68] },
  'T4-T6': { top: 355, bottom: 390, domain: [-115, 60] },
  'C4-P4': { top: 500, bottom: 540, domain: [-66, 55] },
};
const powMax: Record<string, number> = {
  'F7-T3': 5, 'F3-C3': 11.5, 'T3-T5': 7, 'C3-P3': 8,
  'F8-T4': 6.5, 'F4-C4': 14, 'T4-T6': 6.5, 'C4-P4': 8,
};

const FONT = '"Liberation Sans", Arial, Helvetica, sans-serif';
const RED = '#ff3030';
const GREY = '#525252';
const BLUE = '#3d9bd8';
const AXIS = '#6e6e6e';
const TICK = { fontSize: 10, fill: '#4d4d4d', fontFamily: FONT };
const TICK_SMALL = { fontSize: 9.5, fill: '#4d4d4d', fontFamily: FONT };

const toRows = (pts: Pt[]) => pts.map(([t, v]) => ({ t, v }));

function Rotated({ x, y, text, size = 11 }: { x: number; y: number; text: React.ReactNode; size?: number }) {
  return (
    <div style={{ position: 'absolute', left: x, top: y, transform: 'translate(-50%, -50%) rotate(-90deg)', fontFamily: FONT, fontSize: size, color: '#4d4d4d', whiteSpace: 'nowrap' }}>
      {text}
    </div>
  );
}

function ChannelGroup({ ch }: { ch: (typeof channels)[number] }) {
  const left = COL_X[ch.col];
  const isaTop = ISA_TOP[ch.row];
  const box = eegBox[ch.name];
  const powBottom = POW_BOTTOM[ch.row];
  const powTop = powBottom - POW_H;
  const isBottom = ch.row === 3;
  const eegRows = eegTime.map((t, i) => ({ t, r: [ch.eegHi[i], ch.eegLo[i]] }));
  const eegH = box.bottom - box.top;
  const xAxisH = 22;

  return (
    <>
      <div style={{ position: 'absolute', left: left + 3, top: isaTop - 9, fontFamily: FONT, fontSize: 10, fontWeight: 'bold', color: '#111' }}>
        {ch.name}
      </div>

      {/* ISA EEG */}
      <div style={{ position: 'absolute', left: left - PAD, top: isaTop - PADY }}>
        <ComposedChart width={PAD + PLOT_W + PAD} height={ISA_H + 2 * PADY} data={toRows(ch.isa)} margin={{ top: PADY, bottom: PADY, left: 0, right: PAD }}>
          <XAxis type="number" dataKey="t" domain={[0, 60]} hide />
          <YAxis width={PAD} type="number" domain={[-500, 500]} reversed allowDataOverflow ticks={[-500, 0, 500]} interval={0}
            tickSize={-3} tickMargin={7} tick={TICK} axisLine={{ stroke: AXIS }} tickLine={{ stroke: AXIS }} />
          <Line type="linear" dataKey="v" stroke={RED} strokeWidth={1.2} dot={false} isAnimationActive={false} />
        </ComposedChart>
      </div>
      <Rotated x={left - 25} y={isaTop + ISA_H / 2} text="μV" />

      {/* EEG */}
      <div style={{ position: 'absolute', left: left - PAD, top: box.top - PADY }}>
        <ComposedChart width={PAD + PLOT_W + PAD} height={eegH + 2 * PADY} data={eegRows} margin={{ top: PADY, bottom: PADY, left: PAD, right: 0 }}>
          <XAxis type="number" dataKey="t" domain={[0, 60]} hide />
          <YAxis orientation="right" width={PAD} type="number" domain={box.domain} reversed allowDataOverflow ticks={ch.eegTicks} interval={0}
            tickSize={-3} tickMargin={6} tick={TICK_SMALL} axisLine={{ stroke: AXIS }} tickLine={{ stroke: AXIS }} />
          <Area type="linear" dataKey="r" stroke={GREY} strokeWidth={0.5} fill={GREY} fillOpacity={1} dot={false} isAnimationActive={false} />
        </ComposedChart>
      </div>
      <Rotated x={left + PLOT_W + 28} y={(box.top + box.bottom) / 2} text="μV" />

      {/* Power */}
      <div style={{ position: 'absolute', left: left - PAD, top: powTop - PADY }}>
        <ComposedChart width={PAD + PLOT_W + PAD} height={POW_H + PADY + (isBottom ? xAxisH : PADY)} data={toRows(ch.power)}
          margin={{ top: PADY, bottom: isBottom ? 0 : PADY, left: 0, right: PAD }}>
          {isBottom ? (
            <XAxis type="number" dataKey="t" domain={[0, 60]} ticks={timeTicks} interval={0} height={xAxisH}
              tickSize={-3} tickMargin={5} tick={TICK} axisLine={{ stroke: AXIS }} tickLine={{ stroke: AXIS }} />
          ) : (
            <XAxis type="number" dataKey="t" domain={[0, 60]} hide />
          )}
          <YAxis width={PAD} type="number" domain={[0, powMax[ch.name]]} allowDataOverflow ticks={ch.powTicks} interval={0}
            tickSize={-3} tickMargin={7} tick={TICK} axisLine={{ stroke: AXIS }} tickLine={{ stroke: AXIS }} />
          <Line type="linear" dataKey="v" stroke={BLUE} strokeWidth={1.3} dot={false} isAnimationActive={false} />
        </ComposedChart>
      </div>
      <Rotated x={left - 25} y={powTop + POW_H / 2} text={<span>μV<sup style={{ fontSize: 7 }}>2</sup></span>} />
      {isBottom && (
        <div style={{ position: 'absolute', left: left + PLOT_W / 2, top: 597, transform: 'translateX(-50%)', fontFamily: FONT, fontSize: 10, color: '#333' }}>
          Time (min)
        </div>
      )}
    </>
  );
}

const legendItems = [
  { label: 'ISA EEG (0.001-0.1 Hz)', color: RED, dash: undefined as string | undefined, x: 690 },
  { label: 'EEG (0.5-30 Hz)', color: '#8a8a8a', dash: '2 1', x: 893 },
  { label: 'Power EEG (0.5-30 Hz)', color: BLUE, dash: undefined, x: 1027 },
];

export default function App() {
  return (
    <div style={{ position: 'absolute', left: 0, top: 0, width: 1192, height: 609, background: '#fff', overflow: 'hidden' }}>
      {legendItems.map((it) => (
        <div key={it.label} style={{ position: 'absolute', left: it.x, top: 0, height: 11, display: 'flex', alignItems: 'center', fontFamily: FONT, fontSize: 9, color: it.color, whiteSpace: 'nowrap' }}>
          <svg width={34} height={4} style={{ marginRight: 4 }}>
            <line x1={0} y1={2} x2={34} y2={2} stroke={it.color} strokeWidth={1} strokeDasharray={it.dash} />
          </svg>
          {it.label}
        </div>
      ))}
      {channels.map((ch) => (
        <ChannelGroup key={ch.name} ch={ch} />
      ))}
    </div>
  );
}
